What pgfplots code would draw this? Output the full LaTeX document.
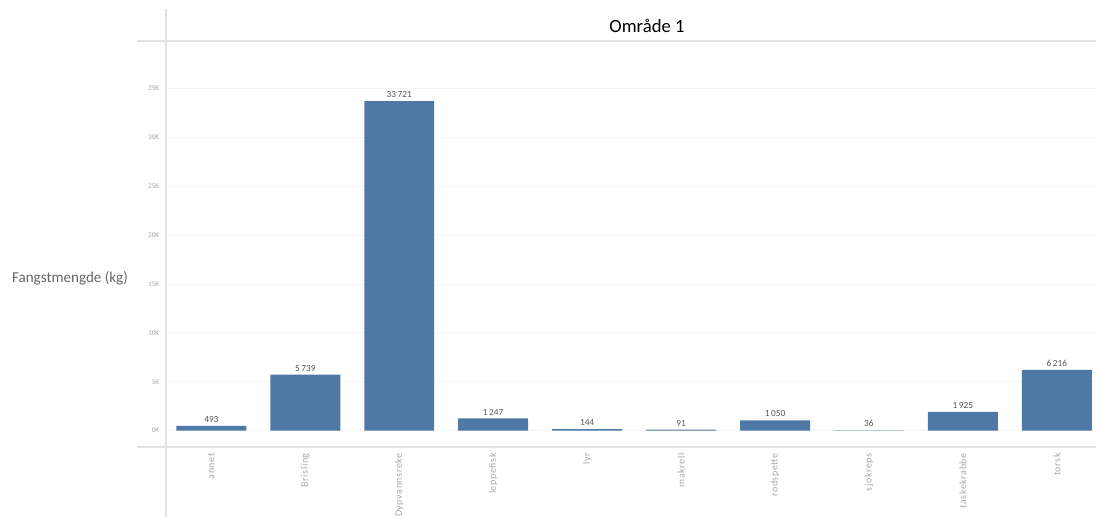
\documentclass[border=0pt]{standalone}
\usepackage{pgfplots}
\pgfplotsset{compat=1.18}
\usepackage{fontspec}
\setmainfont{Carlito}
\newfontfamily\ticklab[LetterSpace=6]{Carlito}
\definecolor{barblue}{HTML}{4E79A7}
\definecolor{linegray}{HTML}{E2E2E2}
\definecolor{gridgray}{HTML}{F2F2F2}
\definecolor{labgray}{HTML}{666666}
\definecolor{tickgray}{HTML}{A8A8A8}
\definecolor{valgray}{HTML}{555555}
\begin{document}
\begin{tikzpicture}[x=0.75pt,y=0.75pt]
\useasboundingbox (0,0) rectangle (1096,517);
% frame lines
\draw[linegray,line width=0.8pt] (166,508) -- (166,0);
\draw[linegray,line width=0.8pt] (137,70) -- (1096,70);
\draw[linegray,line width=0.8pt] (137,476) -- (1096,476);
\begin{axis}[
  at={(176,70)}, anchor=south west,
  scale only axis,
  width=697.5pt, height=304.5pt,
  xmin=-0.49, xmax=9.41,
  ymin=-1840, ymax=39704,
  axis line style={draw=none},
  major tick length=0pt,
  scaled y ticks=false,
  ymajorgrids, grid style={gridgray, line width=0.6pt},
  ytick={0,5000,10000,15000,20000,25000,30000,35000},
  yticklabels={0K,5K,10K,15K,20K,25K,30K,35K},
  yticklabel style={font=\fontsize{5.5}{6}\selectfont, text=tickgray, xshift=-1pt},
  xtick={0,1,2,3,4,5,6,7,8,9},
  xticklabels={annet,Brisling,Dypvannsreke,leppefisk,lyr,makrell,rodspette,sjokreps,taskekrabbe,torsk},
  xticklabel style={rotate=90, anchor=east, font=\ticklab\fontsize{7.5}{8}\selectfont, text=tickgray},
  ybar, bar width=0.745,
  point meta=explicit symbolic,
  nodes near coords,
  nodes near coords style={font=\fontsize{7}{8}\selectfont, text=valgray, yshift=-1pt},
  clip=false,
]
\addplot[fill=barblue, draw=none] coordinates {
  (0,493) [493]
  (1,5739) [5\,739]
  (2,33721) [33\,721]
  (3,1247) [1\,247]
  (4,144) [144]
  (5,91) [91]
  (6,1050) [1\,050]
  (7,36) [36]
  (8,1925) [1\,925]
  (9,6216) [6\,216]
};
\end{axis}
\node[font=\fontsize{14}{16}\selectfont, text=black] at (647,491) {Område 1};
\node[font=\fontsize{11.3}{13}\selectfont, text=labgray] at (70,239) {Fangstmengde (kg)};
\end{tikzpicture}
\end{document}
